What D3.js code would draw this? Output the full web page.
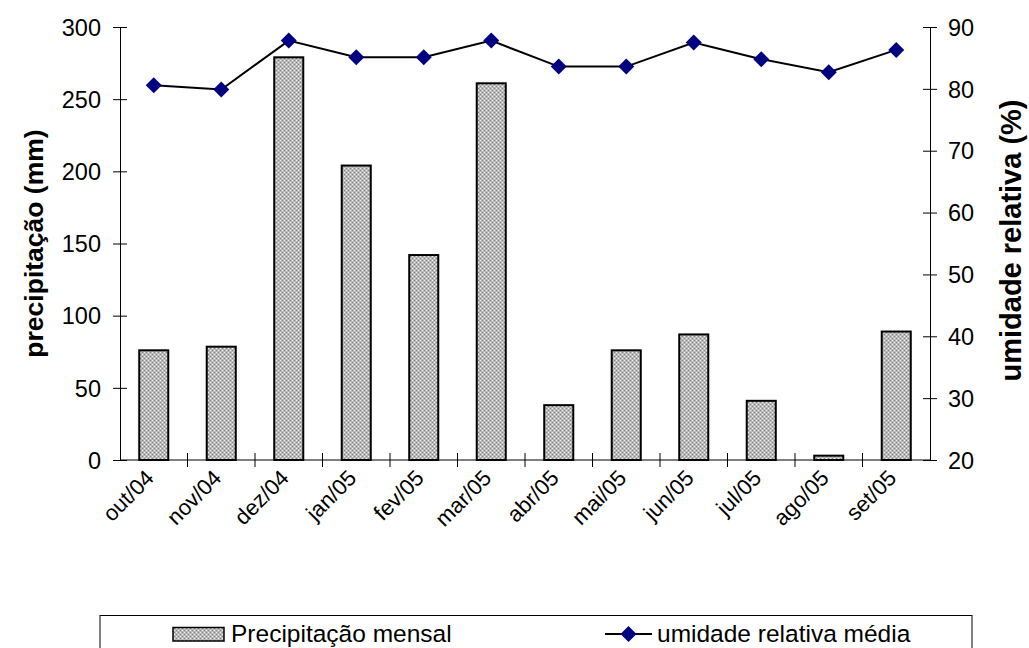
<!DOCTYPE html>
<html>
<head>
<meta charset="utf-8">
<script src="https://cdn.jsdelivr.net/npm/d3@7/dist/d3.min.js"></script>
<style>
  html, body { margin: 0; padding: 0; background: #fff; }
  svg text { font-family: "Liberation Sans", Arial, sans-serif; fill: #000; }
</style>
</head>
<body>
<svg id="chart" width="1029" height="648"></svg>
<script>
// Monthly precipitation (mm) and mean relative humidity (%)
const months = ["out/04","nov/04","dez/04","jan/05","fev/05","mar/05","abr/05","mai/05","jun/05","jul/05","ago/05","set/05"];
const precipitation = [76, 78.5, 279, 204, 142, 261, 38, 76, 87, 41, 3, 89];
const humidity = [80.6, 79.9, 87.8, 85.1, 85.1, 87.8, 83.6, 83.6, 87.5, 84.8, 82.7, 86.3];
const leftTicks = [0, 50, 100, 150, 200, 250, 300];
const rightTicks = [20, 30, 40, 50, 60, 70, 80, 90];

const svg = d3.select("#chart");
const plot = { left: 120, right: 930, top: 27, bottom: 460 };
const tickFont = 23.5;

// Hatched fill for the bars
const defs = svg.append("defs");
const pat = defs.append("pattern")
  .attr("id", "hatch").attr("patternUnits", "userSpaceOnUse")
  .attr("width", 4).attr("height", 4);
pat.append("rect").attr("width", 4).attr("height", 4).attr("fill", "#b8b8b8");
pat.append("rect").attr("x", 0).attr("y", 0).attr("width", 1).attr("height", 1).attr("fill", "#f2f2f2");
pat.append("rect").attr("x", 2).attr("y", 2).attr("width", 1).attr("height", 1).attr("fill", "#f2f2f2");
pat.append("rect").attr("x", 2).attr("y", 0).attr("width", 1).attr("height", 1).attr("fill", "#858585");
pat.append("rect").attr("x", 0).attr("y", 2).attr("width", 1).attr("height", 1).attr("fill", "#858585");

const x = d3.scaleBand().domain(months).range([plot.left, plot.right]).paddingInner(0).paddingOuter(0);
const yL = d3.scaleLinear().domain([0, 300]).range([plot.bottom, plot.top]);
const yR = d3.scaleLinear().domain([20, 90]).range([plot.bottom, plot.top]);
const barW = x.bandwidth() * 0.43;

// Bars
svg.append("g").selectAll("rect").data(precipitation).join("rect")
  .attr("x", (d, i) => x(months[i]) + (x.bandwidth() - barW) / 2)
  .attr("y", d => yL(d))
  .attr("width", barW)
  .attr("height", d => yL(0) - yL(d))
  .attr("fill", "url(#hatch)")
  .attr("stroke", "#000").attr("stroke-width", 2);

// Axes
const leftAxis = d3.axisLeft(yL).tickValues(leftTicks).tickSizeInner(7).tickSizeOuter(0).tickPadding(12);
const gL = svg.append("g").attr("transform", `translate(${plot.left},0)`).call(leftAxis);
gL.selectAll(".tick line").attr("x1", 7).attr("x2", -7);
gL.selectAll("text").attr("font-size", tickFont).attr("dy", "0.35em");

const rightAxis = d3.axisRight(yR).tickValues(rightTicks).tickSizeInner(7).tickSizeOuter(0).tickPadding(11);
const gR = svg.append("g").attr("transform", `translate(${plot.right},0)`).call(rightAxis);
gR.selectAll(".tick line").attr("x1", -7).attr("x2", 7);
gR.selectAll("text").attr("font-size", tickFont).attr("dy", "0.35em");

const gX = svg.append("g").attr("transform", `translate(0,${plot.bottom})`);
gX.append("line").attr("x1", plot.left).attr("x2", plot.right).attr("stroke", "#000");
gX.selectAll(".xtick").data(months.slice(1)).join("line")
  .attr("x1", d => x(d)).attr("x2", d => x(d))
  .attr("y1", -7).attr("y2", 7).attr("stroke", "#000");
gX.selectAll(".xlab").data(months).join("text")
  .attr("transform", d => `translate(${x(d) + x.bandwidth() / 2 - 4},${14}) rotate(-45)`)
  .attr("text-anchor", "end")
  .attr("font-size", 22)
  .attr("dy", "0.35em")
  .text(d => d);

svg.selectAll(".domain").attr("stroke", "#000");
svg.selectAll(".tick line").attr("stroke", "#000");

// Axis titles
svg.append("text")
  .attr("transform", `translate(43,${(plot.top + plot.bottom) / 2}) rotate(-90)`)
  .attr("text-anchor", "middle").attr("font-size", 26.5).attr("font-weight", "bold")
  .text("precipitação (mm)");
svg.append("text")
  .attr("transform", `translate(1021,${(plot.top + plot.bottom) / 2 - 3}) rotate(-90)`)
  .attr("text-anchor", "middle").attr("font-size", 29).attr("font-weight", "bold")
  .text("umidade relativa (%)");

// Humidity line with diamond markers
const line = d3.line()
  .x((d, i) => x(months[i]) + x.bandwidth() / 2)
  .y(d => yR(d));
svg.append("path").datum(humidity)
  .attr("d", line).attr("fill", "none").attr("stroke", "#000").attr("stroke-width", 2);
svg.append("g").selectAll("path").data(humidity).join("path")
  .attr("transform", (d, i) => `translate(${x(months[i]) + x.bandwidth() / 2},${yR(d)}) rotate(45)`)
  .attr("d", d3.symbol().type(d3.symbolSquare).size(128))
  .attr("fill", "#000080");

// Legend
const lg = svg.append("g");
lg.append("rect").attr("x", 100).attr("y", 615.5).attr("width", 872).attr("height", 60)
  .attr("fill", "#fff").attr("stroke", "#000").attr("stroke-width", 1);
lg.append("rect").attr("x", 173).attr("y", 627.5).attr("width", 51).attr("height", 13.5)
  .attr("fill", "url(#hatch)").attr("stroke", "#000").attr("stroke-width", 1.5);
lg.append("text").attr("x", 231).attr("y", 642).attr("font-size", 24.5).text("Precipitação mensal");
lg.append("line").attr("x1", 605).attr("x2", 652).attr("y1", 634).attr("y2", 634)
  .attr("stroke", "#000").attr("stroke-width", 2);
lg.append("path").attr("transform", "translate(628.5,634) rotate(45)")
  .attr("d", d3.symbol().type(d3.symbolSquare).size(128)).attr("fill", "#000080");
lg.append("text").attr("x", 657).attr("y", 642).attr("font-size", 24.5).text("umidade relativa média");
</script>
</body>
</html>
